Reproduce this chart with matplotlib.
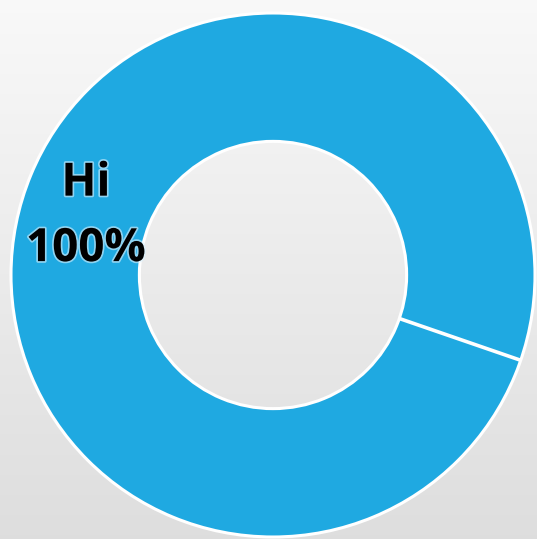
import numpy as np
import matplotlib
matplotlib.use("Agg")
import matplotlib.pyplot as plt
import matplotlib.patheffects as pe

# Data
categories = ["Hi"]
values = [100]
colors = ["#1FA9E1"]

W, H, DPI = 537, 539, 100
fig = plt.figure(figsize=(W / DPI, H / DPI), dpi=DPI)

# gradient background
bg = fig.add_axes([0, 0, 1, 1], zorder=0)
grad = np.linspace(0, 1, 256).reshape(-1, 1)
top = np.array([0.975, 0.975, 0.975])
bot = np.array([0.87, 0.87, 0.87])
img = top + (bot - top) * grad[:, :, None]
bg.imshow(img, aspect="auto", extent=[0, 1, 0, 1])
bg.set_axis_off()

ax = fig.add_axes([0, 0, 1, 1], zorder=1)
ax.patch.set_alpha(0)

start = -19
width = 0.49
total = sum(values)
wedges, _ = ax.pie(values, colors=colors, startangle=start, counterclock=True,
                   radius=1.0,
                   wedgeprops=dict(width=width, edgecolor="white", linewidth=2.2))

# slice boundary lines (matplotlib omits the radial edge for a full ring)
theta0 = start
for v in values:
    a = np.deg2rad(theta0)
    ax.plot([(1 - width) * np.cos(a), np.cos(a)], [(1 - width) * np.sin(a), np.sin(a)],
            color="white", lw=2.6, solid_capstyle="butt", zorder=5)
    theta0 += 360 * v / total

# label at middle of each wedge
r_label = 1.0 - width / 2
theta0 = start
for cat, v in zip(categories, values):
    mid = np.deg2rad(theta0 + 360 * v / total / 2)
    x, y = r_label * np.cos(mid), r_label * np.sin(mid)
    eff = [pe.withStroke(linewidth=2.5, foreground=(0.85, 0.95, 1.0, 0.6))]
    ax.text(x, y + 0.105, cat, ha="center", va="center", fontsize=33,
            fontweight="bold", family="Open Sans", color="black", path_effects=eff)
    ax.text(x, y - 0.145, f"{v / total * 100:.0f}%", ha="center", va="center", fontsize=33,
            fontweight="bold", family="Open Sans", color="black", path_effects=eff)
    theta0 += 360 * v / total

# layout: radius 1 -> 262 px, centre at (273, 275) px from top-left
R = 262.0
cx, cy = 273.0, 275.0
ax.set_xlim(-cx / R, (W - cx) / R)
ax.set_ylim(-(H - cy) / R, cy / R)
ax.set_aspect("auto")
ax.set_axis_off()

fig.savefig("out.png", dpi=DPI)
